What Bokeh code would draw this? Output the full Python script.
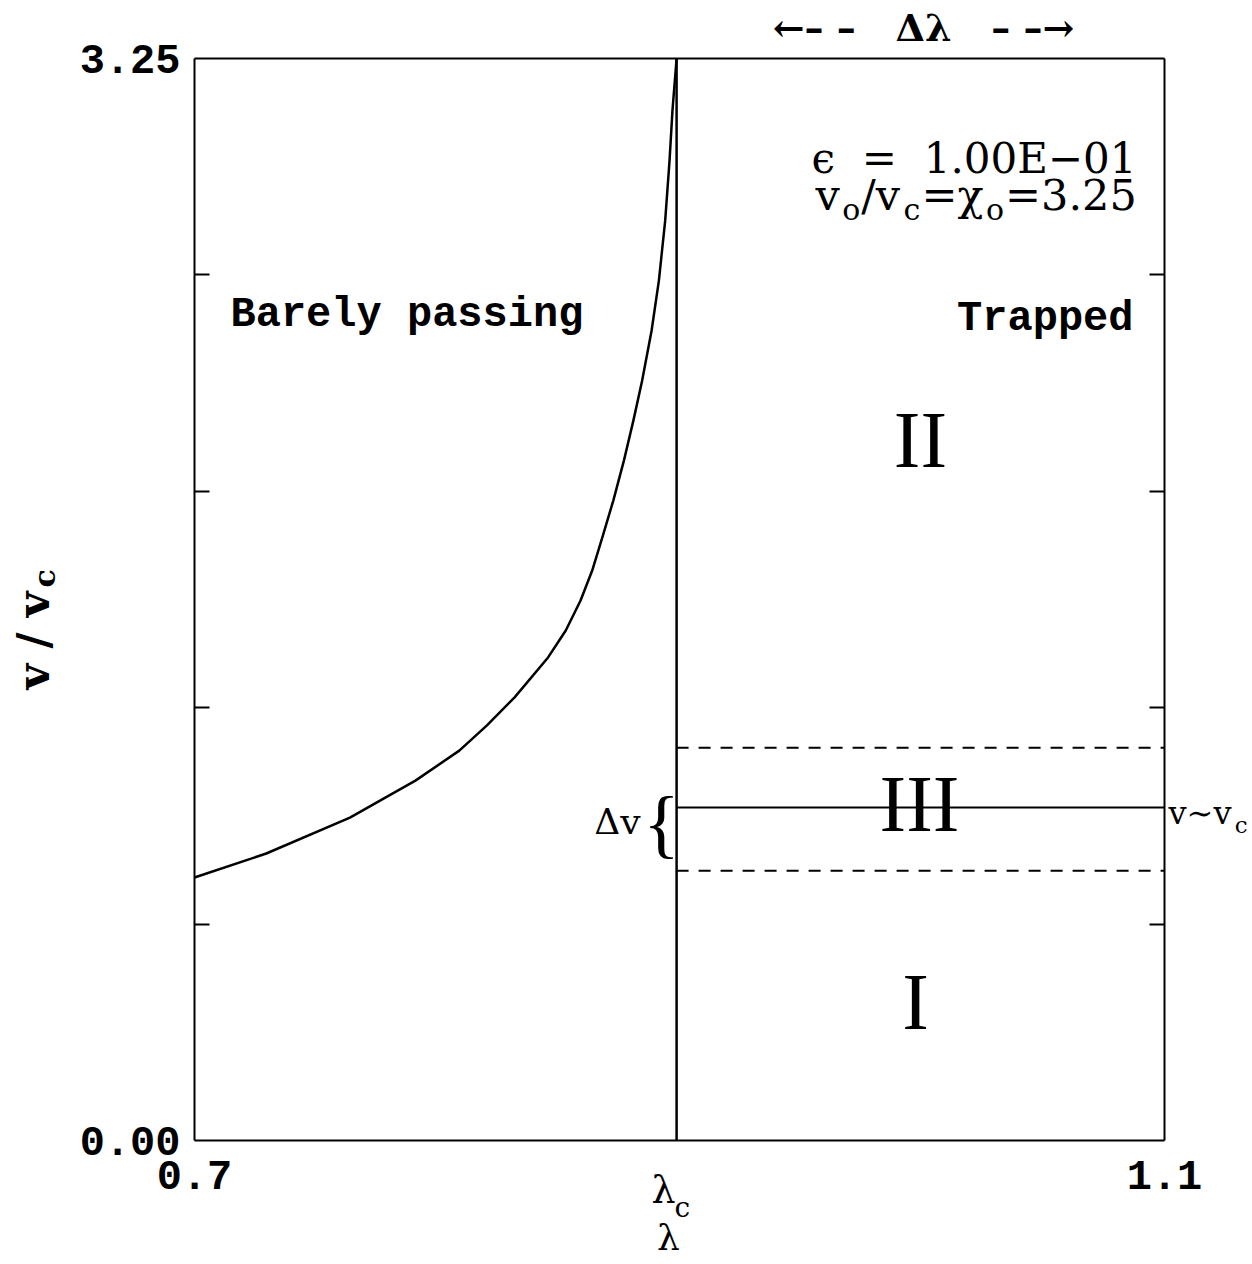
import math
from bokeh.plotting import figure
from bokeh.models import Range1d, LinearAxis, FixedTicker, Label, PrintfTickFormatter, CustomJSTickFormatter
from bokeh.embed import file_html
from bokeh.resources import INLINE

# ---------------- data ----------------
lam_c = 0.8988
lam_curve = [0.7000, 0.7296, 0.7641, 0.7911, 0.8092, 0.8206, 0.8320, 0.8458, 0.8531,
             0.8592, 0.8640, 0.8684, 0.8727, 0.8771, 0.8810, 0.8846, 0.8885, 0.8915,
             0.8941, 0.8959, 0.8971, 0.8988]
v_curve = [0.790, 0.862, 0.970, 1.081, 1.171, 1.247, 1.331, 1.451, 1.532,
           1.622, 1.712, 1.817, 1.922, 2.043, 2.163, 2.283, 2.433, 2.583,
           2.763, 2.944, 3.094, 3.250]
v_c_line = 1.0
v_band_upper = 1.18
v_band_lower = 0.81
lam_trapped = [lam_c, 1.1]
y_major = [0.0, 3.25]
y_minor = [0.65, 1.30, 1.95, 2.60]
x_ticks = [0.7, 1.1]

X0, X1, Y0, Y1 = 0.7, 1.1, 0.0, 3.25
W, H = 1252, 1264
FL, FR, FT, FB = 194, 1164, 58, 1140
SX = (FR - FL) / (X1 - X0)
SY = (FB - FT) / (Y1 - Y0)

p = figure(width=W, height=H, output_backend="svg", toolbar_location=None,
           x_range=Range1d(X0 - FL / SX, X0 + (W - FL) / SX),
           y_range=Range1d(Y0 - (H - FB) / SY, Y1 + FT / SY),
           min_border=0)
p.grid.visible = False
p.outline_line_color = None
p.background_fill_color = "white"
p.border_fill_color = "white"


def style_axis(ax):
    ax.axis_line_width = 2
    ax.axis_line_color = "black"
    ax.major_tick_in = 0
    ax.major_tick_out = 0
    ax.minor_tick_in = 0
    ax.minor_tick_out = 0
    ax.major_label_text_color = "black"
    ax.major_label_text_font = "Liberation Mono"
    ax.major_label_text_font_style = "bold"
    ax.major_label_text_font_size = "42px"


# bottom axis
xa = p.xaxis[0]
style_axis(xa)
xa.fixed_location = Y0
xa.bounds = (X0, X1)
xa.ticker = FixedTicker(ticks=x_ticks)
xa.major_label_standoff = 20

# left axis
ya = p.yaxis[0]
style_axis(ya)
ya.fixed_location = X0
ya.bounds = (Y0, Y1)
ya.ticker = FixedTicker(ticks=y_major, minor_ticks=y_minor)
ya.formatter = PrintfTickFormatter(format="%.2f")
ya.minor_tick_in = 15
ya.minor_tick_line_width = 2
ya.major_label_standoff = 14

# right axis (ticks only)
ra = LinearAxis(ticker=FixedTicker(ticks=y_major, minor_ticks=y_minor),
                formatter=CustomJSTickFormatter(code="return ''"))
style_axis(ra)
ra.fixed_location = X1
ra.bounds = (Y0, Y1)
ra.minor_tick_in = 15
ra.minor_tick_line_width = 2
p.add_layout(ra, "right")

# top axis (frame line only)
ta = LinearAxis(ticker=FixedTicker(ticks=[]),
                formatter=CustomJSTickFormatter(code="return ''"))
style_axis(ta)
ta.fixed_location = Y1
ta.bounds = (X0, X1)
p.add_layout(ta, "above")

# ---------------- marks ----------------
p.line(lam_curve, v_curve, line_color="black", line_width=2.5, line_join="round")
p.line([lam_c, lam_c], [Y0, Y1], line_color="black", line_width=2.5)
p.line(lam_trapped, [v_c_line, v_c_line], line_color="black", line_width=2)
p.line(lam_trapped, [v_band_upper, v_band_upper], line_color="black", line_width=2, line_dash="12 10")
p.line(lam_trapped, [v_band_lower, v_band_lower], line_color="black", line_width=2, line_dash="12 10")


# ---------------- text ----------------
def lab(px, py, text, size, font="DejaVu Serif", align="left", baseline="alphabetic",
        angle=0.0, style="normal"):
    if baseline == "alphabetic":
        py -= 0.36 * size
    x = X0 + (px - FL) / SX
    y = Y0 + (FB - py) / SY
    p.add_layout(Label(x=x, y=y, text=text, text_font=font, text_font_size=f"{size}px",
                       text_align=align, text_baseline=baseline, angle=angle,
                       text_color="black", text_font_style=style))


EM = {"v": 0.60, "o": 0.60, "/": 0.36, "c": 0.56, "=": 0.84, "χ": 0.64, "3": 0.64,
      ".": 0.32, "2": 0.64, "5": 0.64, "∼": 0.84}


def rich(px, py, pieces, size, sub_size, drop, font="DejaVu Serif"):
    x = px
    for txt, sub in pieces:
        s = sub_size if sub else size
        lab(x, py + (drop if sub else 0), txt, s, font)
        x += sum(EM.get(ch, 0.6) for ch in txt) * s + 1


NB = "\u00a0"

lab(230, 330, "Barely passing", 42, font="Liberation Mono", style="bold")
lab(1133, 334, "Trapped", 42, font="Liberation Mono", style="bold", align="right")

lab(1136, 173, f"ϵ{NB}{NB}={NB}{NB}1.00E−01", 42, align="right")
rich(815, 210, [("v", False), ("o", True), ("/v", False), ("c", True), ("=χ", False),
                ("o", True), ("=3.25", False)], 43, 30, 10)

rich(1168, 824, [("v∼v", False), ("c", True)], 32, 23, 9)
lab(640, 834, "Δv", 36, align="right")
lab(661, 822, "{", 76, font="Liberation Serif", align="center", baseline="middle")

lab(920, 468, "II", 80, font="Liberation Serif", align="center")
lab(919, 832, "III", 80, font="Liberation Serif", align="center")
lab(915, 1030, "I", 80, font="Liberation Serif", align="center")

lab(923, 41, f"←– –{NB}{NB}{NB}Δλ{NB}{NB}{NB}– –→", 38, align="center", style="bold")

lab(663, 1203, "λ", 38, align="center")
lab(674, 1217, "c", 28)
lab(668, 1250, "λ", 36, align="center")

lab(33, 640, "v / v", 44, align="center", baseline="middle", angle=math.pi / 2, style="bold")
lab(44, 587, "c", 30, align="left", baseline="middle", angle=math.pi / 2, style="bold")

open("out.html", "w").write(file_html(p, INLINE))
